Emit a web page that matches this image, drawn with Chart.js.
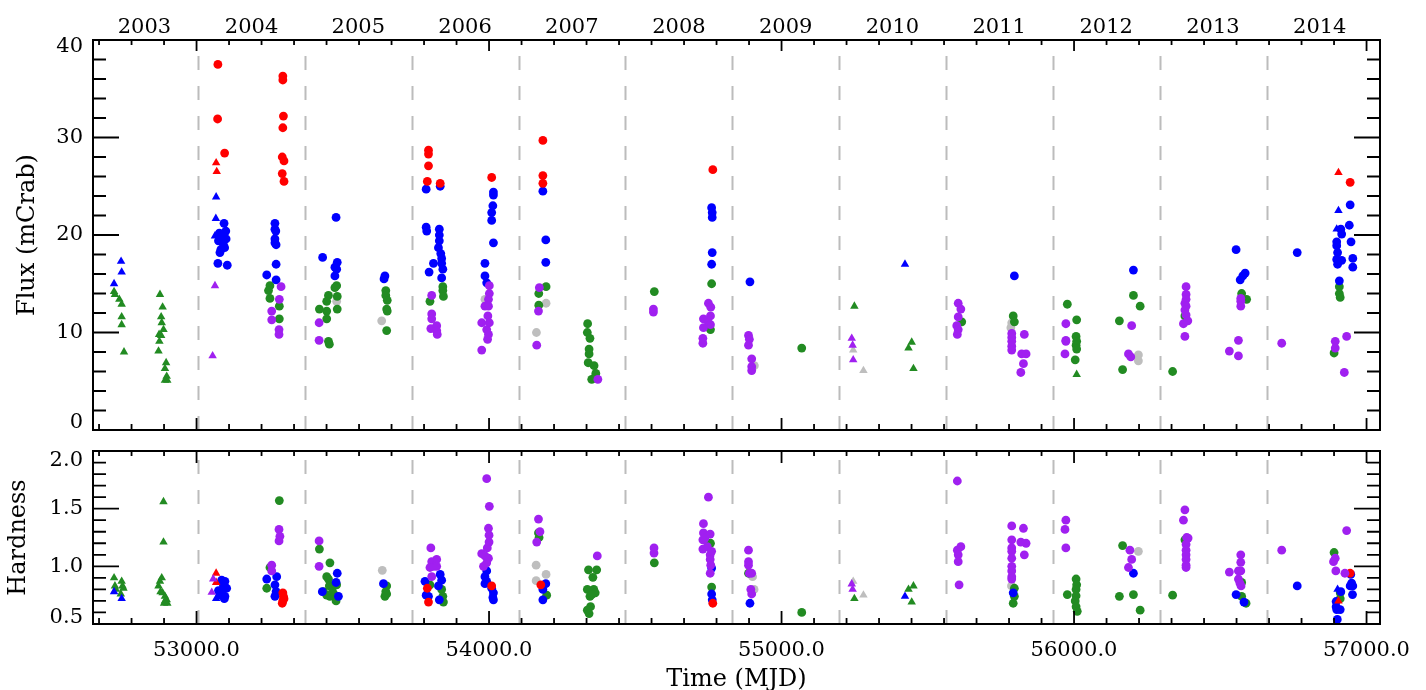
<!DOCTYPE html>
<html>
<head>
<meta charset="utf-8">
<title>Flux and hardness light curve</title>
<script src="https://cdn.jsdelivr.net/npm/chart.js@4.4.0/dist/chart.umd.min.js"></script>
<style>
  body { margin: 0; background: #fff; }
  #wrap { position: relative; width: 1426px; height: 690px; }
  #fluxBox { position: absolute; left: 0; top: 0; width: 1426px; height: 440px; }
  #hardBox { position: absolute; left: 0; top: 440px; width: 1426px; height: 250px; }
</style>
</head>
<body>
<div id="wrap">
  <div id="fluxBox"><canvas id="flux"></canvas></div>
  <div id="hardBox"><canvas id="hard"></canvas></div>
</div>
<script>
// ---- axis data ----
const mjdMin = 52646, mjdMax = 57046;
const yearLabels = ["2003","2004","2005","2006","2007","2008","2009","2010","2011","2012","2013","2014"];
const yearMids   = [52822,53188,53553,53918,54283,54649,55014,55379,55744,56110,56475,56840];
const yearStarts = [53005,53371,53736,54101,54466,54832,55197,55562,55927,56293,56658];
const mjdTicks   = [53000,54000,55000,56000,57000];
const fluxTicks  = ["0","10","20","30","40"];
const fluxLabelAt = [0.8,10,20,30,39.3];     // edge labels sit just inside the frame
const hardTicks  = ["0.5","1.0","1.5","2.0"];
const hardLabelAt = [0.56,1.0,1.5,1.92];

// ---- flux (mCrab), [MJD, value] ----
const redCircFlux = [
  [53073,37.5],[53072,31.9],[53096,28.4],
  [53295,36.3],[53295,35.9],[53297,32.2],[53295,31.0],[53293,28.0],[53299,27.6],[53293,26.3],[53299,25.5],
  [53793,28.7],[53793,28.3],[53793,27.1],[53789,25.5],[53833,25.3],
  [54009,25.9],[54184,29.7],[54184,26.1],[54184,25.3],[54765,26.7],[56944,25.4]
];
const redTriFlux = [[53067,27.4],[53069,26.5],[56904,26.4]];
const blueCircFlux = [
  [53094,21.2],[53078,20.2],[53100,20.4],[53086,19.7],[53101,19.6],[53075,19.4],[53092,19.0],[53083,18.5],[53096,18.7],[53080,18.2],[53073,17.1],[53105,16.9],
  [53268,21.2],[53268,20.6],[53271,20.4],[53268,19.6],[53268,19.2],[53272,19.0],[53272,17.0],[53240,15.9],[53272,15.4],
  [53477,21.8],[53431,17.7],[53481,17.2],[53473,16.7],[53479,16.5],[53473,15.8],
  [53644,15.8],[53641,15.5],
  [53785,24.7],[53833,25.0],[53785,20.8],[53787,20.4],[53830,20.6],[53830,20.0],[53830,19.4],[53827,18.7],[53835,18.1],[53838,17.6],[53810,17.1],[53838,17.1],[53842,16.5],[53795,16.2],[53838,15.6],
  [54015,24.4],[54015,24.1],[54013,23.0],[54009,22.3],[54009,21.5],[54015,19.2],[53986,17.1],[53986,15.8],[53992,15.1],
  [54184,24.5],[54194,19.5],[54194,17.2],
  [54761,22.8],[54763,22.3],[54763,21.8],[54763,18.2],[54761,17.0],
  [54892,15.2],[55796,15.8],[56203,16.4],
  [56554,18.5],[56585,16.1],[56577,15.8],[56568,15.4],
  [56763,18.2],
  [56944,23.1],[56941,21.0],[56912,20.6],[56915,20.1],[56947,19.3],[56898,19.3],[56898,18.9],[56901,18.2],[56898,17.5],[56915,17.4],[56901,17.0],[56953,17.6],[56953,16.7],[56907,15.3]
];
const blueTriFlux = [[52742,17.3],[52744,16.2],[52718,15.0],[53067,23.9],[53066,21.7],[53063,19.9],[55422,17.0],[56904,22.5],[56898,20.6]];
const greenCircFlux = [
  [53251,14.8],[53246,14.3],[53251,13.5],[53283,12.7],[53283,11.4],
  [53479,14.8],[53473,14.6],[53451,13.8],[53481,13.7],[53445,13.2],[53481,12.4],[53420,12.4],[53445,12.2],[53445,11.4],[53451,9.1],[53454,8.8],
  [53647,14.3],[53647,13.8],[53652,13.3],[53650,12.4],[53652,12.2],[53650,10.2],
  [53842,14.7],[53842,14.3],[53844,13.7],[53798,13.2],
  [54195,14.7],[54170,14.0],[54170,12.8],
  [54337,10.9],[54336,10.0],[54345,9.4],[54342,8.3],[54342,7.8],[54339,6.9],[54359,6.6],[54365,5.8],[54351,5.2],[54363,5.4],
  [54565,14.2],[54761,15.0],[54757,10.3],[55069,8.4],[55616,11.1],
  [55792,11.7],[55796,11.1],
  [55977,12.9],[56009,11.3],[56007,9.6],[56009,9.1],[56007,8.7],[56009,8.3],[56004,7.2],
  [56203,13.8],[56226,12.7],[56155,11.2],[56166,6.2],
  [56337,6.0],[56379,11.7],[56573,14.0],[56590,13.4],
  [56907,14.7],[56907,14.0],[56910,13.6],[56889,7.9]
];
const greenTriFlux = [
  [52718,14.2],[52721,13.9],[52736,13.4],[52744,12.9],[52744,11.6],[52744,10.8],[52752,8.0],
  [52875,13.9],[52884,12.6],[52879,11.6],[52881,11.0],[52887,10.3],[52872,9.8],[52879,9.7],[52873,9.1],[52870,8.1],[52896,6.9],[52892,6.3],[52898,5.5],[52892,5.1],[52900,5.1],
  [55249,12.7],[55445,9.0],[55434,8.4],[55451,6.3],[56009,5.7]
];
const purpleCircFlux = [
  [53289,14.7],[53283,13.4],[53257,12.2],[53257,11.3],[53282,10.3],[53282,9.8],
  [53419,11.0],[53419,9.2],
  [53804,13.8],[53804,11.9],[53804,11.4],[53801,10.4],[53821,10.7],[53821,10.2],[53823,9.8],
  [54001,14.8],[54001,14.0],[53998,13.4],[53986,12.7],[53998,12.7],[53996,11.7],[53975,11.0],[54001,11.0],[53992,10.3],[53998,9.8],[53995,9.3],[53975,8.2],
  [54172,14.6],[54169,12.2],[54163,8.7],[54372,5.2],
  [54562,12.4],[54562,12.1],
  [54750,13.0],[54758,12.6],[54757,11.7],[54733,11.4],[54750,11.0],[54757,10.8],[54733,10.5],[54731,9.4],[54731,8.9],
  [54887,9.7],[54890,9.3],[54887,8.7],[54898,7.3],[54898,6.5],[54898,6.1],
  [55604,13.0],[55613,12.4],[55604,11.6],[55599,10.7],[55604,10.3],[55601,9.8],
  [55787,9.9],[55787,9.5],[55787,9.1],[55787,8.6],[55787,8.2],[55830,9.8],[55821,7.8],[55836,7.8],[55827,6.8],[55818,5.9],
  [55972,10.9],[55972,9.2],[55972,9.1],[55969,7.8],
  [56197,10.7],[56186,7.8],[56194,7.5],
  [56383,14.7],[56383,13.9],[56383,13.4],[56379,13.0],[56383,12.7],[56379,12.3],[56383,11.8],[56389,11.2],[56374,10.9],[56379,9.6],
  [56570,13.5],[56570,13.2],[56570,12.7],[56562,9.2],[56531,8.1],[56562,7.6],
  [56710,8.9],
  [56893,9.1],[56893,8.4],[56932,9.6],[56924,5.9]
];
const purpleTriFlux = [[53063,14.8],[53055,7.6],[55240,9.4],[55243,8.7],[55245,7.2]];
const grayCircFlux = [[53479,13.2],[53633,11.2],[53986,13.4],[54195,13.0],[54162,10.0],[54907,6.6],[55787,11.0],[55784,10.5],[56220,7.7],[56220,7.1]];
const grayTriFlux = [[55245,8.2],[55280,6.1]];

// ---- hardness ratio, [MJD, value] ----
const redCircHard = [[53295,0.77],[53297,0.74],[53299,0.72],[53293,0.68],[53295,0.70],[53789,0.81],[53793,0.69],[54009,0.83],[54177,0.84],[54765,0.68],[56944,0.94]];
const redTriHard = [[53067,0.94],[53067,0.86],[56904,0.70]];
const blueCircHard = [
  [53086,0.88],[53097,0.87],[53092,0.83],[53103,0.81],[53075,0.79],[53086,0.77],[53097,0.74],[53080,0.75],[53092,0.85],[53095,0.72],
  [53240,0.89],[53274,0.91],[53268,0.84],[53272,0.78],[53268,0.74],
  [53481,0.94],[53477,0.86],[53430,0.78],[53485,0.74],
  [53639,0.85],
  [53781,0.87],[53785,0.75],[53793,0.74],[53833,0.93],[53838,0.88],[53827,0.83],[53830,0.71],
  [53992,0.96],[53986,0.91],[53992,0.87],[53986,0.85],[54009,0.81],[54015,0.77],[54013,0.73],[54015,0.71],
  [54194,0.85],[54184,0.80],[54184,0.71],
  [54761,0.985],[54761,0.76],[54763,0.71],
  [54892,0.68],[55792,0.77],[56203,0.94],
  [56554,0.755],[56581,0.69],[56763,0.83],
  [56946,0.93],[56949,0.855],[56953,0.83],[56952,0.755],[56944,0.83],[56912,0.78],[56896,0.695],[56898,0.625],[56910,0.625],[56900,0.54],[56896,0.65]
];
const blueTriHard = [[52718,0.78],[52744,0.72],[53067,0.72],[55422,0.74],[56901,0.80]];
const greenCircHard = [
  [53283,1.57],[53251,0.99],[53240,0.81],
  [53420,1.15],[53456,1.03],[53445,0.91],[53451,0.89],[53434,0.78],[53454,0.83],[53468,0.83],[53479,0.84],[53445,0.75],[53473,0.75],[53477,0.70],[53456,0.74],[53465,0.78],
  [53650,0.83],[53647,0.78],[53644,0.74],[53650,0.76],
  [53798,0.84],[53838,0.80],[53842,0.74],[53844,0.69],
  [54169,1.29],[54171,1.25],[54197,0.75],
  [54340,0.97],[54368,0.97],[54355,0.905],[54336,0.80],[54358,0.80],[54363,0.77],[54345,0.74],[54351,0.755],[54347,0.65],[54336,0.62],[54342,0.59],
  [54565,1.03],[54757,1.20],[54761,0.82],[54887,0.94],[55069,0.60],
  [55796,0.81],[55796,0.74],[55792,0.68],
  [56007,0.89],[56009,0.84],[56007,0.80],[55977,0.755],[56007,0.745],[56004,0.70],[56007,0.65],[56011,0.61],
  [56166,1.18],[56155,0.74],[56203,0.755],[56226,0.62],
  [56337,0.75],[56379,1.23],
  [56573,0.86],[56573,0.74],[56588,0.68],
  [56889,1.12],[56910,0.77],[56910,0.72]
];
const greenTriHard = [
  [52718,0.90],[52721,0.83],[52744,0.87],[52747,0.83],[52741,0.76],[52750,0.81],[52724,0.80],
  [52887,1.56],[52887,1.21],[52881,0.90],[52875,0.87],[52870,0.83],[52877,0.78],[52884,0.77],[52892,0.74],[52898,0.71],[52889,0.68],[52900,0.68],[52892,0.70],
  [55249,0.72],[55434,0.80],[55451,0.83],[55445,0.69]
];
const purpleCircHard = [
  [53282,1.32],[53285,1.26],[53282,1.22],[53257,1.01],[53257,0.96],
  [53419,1.22],[53419,1.00],
  [53801,1.16],[53804,1.04],[53821,1.06],[53810,1.00],[53821,1.00],[53804,0.91],[53798,0.99],
  [53992,1.76],[54001,1.52],[53998,1.33],[54000,1.27],[54000,1.21],[53994,1.16],[53975,1.11],[53986,1.09],[53998,1.07],[53981,1.00],[53992,1.03],
  [54169,1.41],[54174,1.30],[54163,1.21],[54370,1.09],
  [54564,1.16],[54564,1.115],
  [54750,1.60],[54733,1.37],[54733,1.29],[54756,1.28],[54731,1.23],[54738,1.245],[54731,1.15],[54756,1.10],[54756,1.06],[54758,1.01],[54756,0.94],[54746,1.17],[54761,1.13],
  [54887,1.14],[54887,1.04],[54887,1.01],[54890,0.94],[54898,0.94],[54895,0.80],[54898,0.76],
  [55601,1.74],[55601,1.14],[55613,1.17],[55604,1.10],[55604,1.04],[55607,0.84],
  [55787,1.35],[55787,1.23],[55787,1.16],[55787,1.13],[55787,1.07],[55787,1.00],[55787,0.96],[55787,0.91],[55787,0.89],[55827,1.33],[55818,1.21],[55836,1.20],[55830,1.10],
  [55972,1.40],[55969,1.32],[55972,1.16],
  [56191,1.14],[56197,1.06],[56186,0.99],
  [56379,1.49],[56374,1.40],[56385,1.25],[56390,1.245],[56383,1.19],[56383,1.14],[56383,1.10],[56383,1.06],[56383,1.01],[56383,0.99],
  [56570,1.10],[56570,1.035],[56562,0.96],[56570,0.96],[56531,0.95],[56562,0.89],[56567,0.855],[56571,0.83],
  [56710,1.14],
  [56893,1.07],[56887,1.04],[56895,0.96],[56932,1.31],[56926,0.94]
];
const purpleTriHard = [[53057,0.89],[53052,0.775],[55240,0.847],[55243,0.80]];
const grayCircHard = [[53635,0.965],[54161,1.01],[54195,0.93],[54161,0.876],[54901,0.91],[54906,0.80],[55786,0.83],[56220,1.13]];
const grayTriHard = [[55245,0.87],[55280,0.75]];

// ---- styling ----
const RED = "#ff0000", BLUE = "#0000ff", GREEN = "#228b22", PURPLE = "#a020f0", GRAY = "#bebebe";
const serif = "'DejaVu Serif', 'Liberation Serif', serif";

function ds(label, arr, color, shape) {
  const r = shape === "triangle" ? 4.9 : 4.4;
  return {
    label: label,
    data: arr.map(p => ({ x: p[0], y: p[1] })),
    backgroundColor: color,
    borderColor: color,
    borderWidth: 0,
    pointStyle: shape,
    pointRadius: r,
    pointHoverRadius: r
  };
}

// first dataset is drawn on top
function buildSets(s) {
  return [
    ds("purple tri", s.pt, PURPLE, "triangle"),
    ds("purple", s.pc, PURPLE, "circle"),
    ds("red tri", s.rt, RED, "triangle"),
    ds("red", s.rc, RED, "circle"),
    ds("blue tri", s.bt, BLUE, "triangle"),
    ds("blue", s.bc, BLUE, "circle"),
    ds("green tri", s.gt, GREEN, "triangle"),
    ds("green", s.gc, GREEN, "circle"),
    ds("gray tri", s.at, GRAY, "triangle"),
    ds("gray", s.ac, GRAY, "circle")
  ];
}

// IDL-like frame with inward ticks and dashed year boundaries
const idlFrame = {
  id: "idlFrame",
  beforeDatasetsDraw(chart, args, o) {
    const { ctx, chartArea: a, scales: { x } } = chart;
    ctx.save();
    ctx.strokeStyle = "#bcbcbc";
    ctx.lineWidth = 2;
    ctx.setLineDash([14, 16]);
    yearStarts.forEach(m => {
      const px = Math.round(x.getPixelForValue(m)) + 0.5;
      ctx.beginPath();
      ctx.moveTo(px, a.bottom);
      ctx.lineTo(px, a.top);
      ctx.stroke();
    });
    ctx.restore();
  },
  afterDraw(chart, args, o) {
    const { ctx, chartArea: a, scales: { x, y } } = chart;
    ctx.save();
    ctx.strokeStyle = "#000";
    ctx.lineWidth = 1.8;
    ctx.beginPath();
    for (let k = -4; k <= 40; k++) {
      const v = 53000 + k * 1000 / 9;
      if (v < mjdMin || v > mjdMax) continue;
      const major = k % 9 === 0;
      const px = x.getPixelForValue(v);
      const lb = major ? o.xMajB : o.xMinB;
      const lt = major ? o.xMajT : o.xMinT;
      ctx.moveTo(px, a.bottom); ctx.lineTo(px, a.bottom - lb);
      ctx.moveTo(px, a.top); ctx.lineTo(px, a.top + lt);
    }
    const n = Math.round((o.yMax - o.yMin) / o.yMajor * o.yMinorN);
    for (let i = 0; i <= n; i++) {
      const v = o.yMin + i * o.yMajor / o.yMinorN;
      const len = i % o.yMinorN === 0 ? 26 : 13;
      const py = y.getPixelForValue(v);
      ctx.moveTo(a.left, py); ctx.lineTo(a.left + len, py);
      ctx.moveTo(a.right, py); ctx.lineTo(a.right - len, py);
    }
    ctx.stroke();
    ctx.lineWidth = 2;
    ctx.strokeRect(a.left, a.top, a.right - a.left, a.bottom - a.top);
    ctx.restore();
  }
};

const tickFont = { family: serif, size: 21, lineHeight: 1 };
const titleFont = { family: serif, size: 24 };

// keep label overhang from pushing the plot area around
function noOverhang(s) {
  s.paddingTop = 0; s.paddingBottom = 0; s.paddingLeft = 0; s.paddingRight = 0;
}

function yScale(min, max, at, labels, title, pad) {
  return {
    type: "linear", position: "left", min: min, max: max,
    afterBuildTicks: s => { s.ticks = at.map(v => ({ value: v })); },
    afterFit: s => { s.width = 93; noOverhang(s); },
    ticks: { color: "#000", font: tickFont, padding: 10, callback: (v, i) => labels[i] },
    grid: { display: false, drawTicks: false },
    border: { display: false },
    title: { display: true, text: title, color: "#000", font: titleFont, padding: { top: pad, bottom: 0 } }
  };
}

const common = {
  responsive: true,
  maintainAspectRatio: false,
  animation: false,
  plugins: { legend: { display: false }, tooltip: { enabled: false } }
};

new Chart(document.getElementById("flux"), {
  type: "scatter",
  data: { datasets: buildSets({
    pt: purpleTriFlux, pc: purpleCircFlux, rt: redTriFlux, rc: redCircFlux,
    bt: blueTriFlux, bc: blueCircFlux, gt: greenTriFlux, gc: greenCircFlux,
    at: grayTriFlux, ac: grayCircFlux }) },
  options: Object.assign({}, common, {
    layout: { padding: { left: 0, right: 46, top: 0, bottom: 0 } },
    plugins: Object.assign({}, common.plugins, {
      idlFrame: { yMin: 0, yMax: 40, yMajor: 10, yMinorN: 5, xMajB: 12, xMinB: 6, xMajT: 11, xMinT: 5 }
    }),
    scales: {
      x: {
        type: "linear", position: "bottom", min: mjdMin, max: mjdMax,
        afterFit: s => { s.height = 10; noOverhang(s); },
        ticks: { display: false },
        grid: { display: false, drawTicks: false },
        border: { display: false }
      },
      x2: {
        type: "linear", position: "top", min: mjdMin, max: mjdMax,
        afterBuildTicks: s => { s.ticks = yearMids.map(v => ({ value: v })); },
        afterFit: s => { s.height = 40; noOverhang(s); },
        ticks: { color: "#000", font: tickFont, padding: 2, autoSkip: false, maxRotation: 0,
                 callback: (v, i) => yearLabels[i] },
        grid: { display: false, drawTicks: false },
        border: { display: false }
      },
      y: yScale(0, 40, fluxLabelAt, fluxTicks, "Flux (mCrab)", 13)
    }
  }),
  plugins: [idlFrame]
});

new Chart(document.getElementById("hard"), {
  type: "scatter",
  data: { datasets: buildSets({
    pt: purpleTriHard, pc: purpleCircHard, rt: redTriHard, rc: redCircHard,
    bt: blueTriHard, bc: blueCircHard, gt: greenTriHard, gc: greenCircHard,
    at: grayTriHard, ac: grayCircHard }) },
  options: Object.assign({}, common, {
    layout: { padding: { left: 0, right: 46, top: 11, bottom: 0 } },
    plugins: Object.assign({}, common.plugins, {
      idlFrame: { yMin: 0.5, yMax: 2.0, yMajor: 0.5, yMinorN: 5, xMajB: 13, xMinB: 6, xMajT: 12, xMinT: 5 }
    }),
    scales: {
      x: {
        type: "linear", position: "bottom", min: mjdMin, max: mjdMax,
        afterBuildTicks: s => { s.ticks = mjdTicks.map(v => ({ value: v })); },
        afterFit: s => { s.height = 66; noOverhang(s); },
        ticks: { color: "#000", font: tickFont, padding: 16, autoSkip: false, maxRotation: 0,
                 callback: v => v.toFixed(1) },
        grid: { display: false, drawTicks: false },
        border: { display: false },
        title: { display: true, text: "Time (MJD)", color: "#000", font: titleFont, padding: { top: 0, bottom: -4 } }
      },
      y: yScale(0.5, 2.0, hardLabelAt, hardTicks, "Hardness", 4)
    }
  }),
  plugins: [idlFrame]
});
</script>
</body>
</html>
